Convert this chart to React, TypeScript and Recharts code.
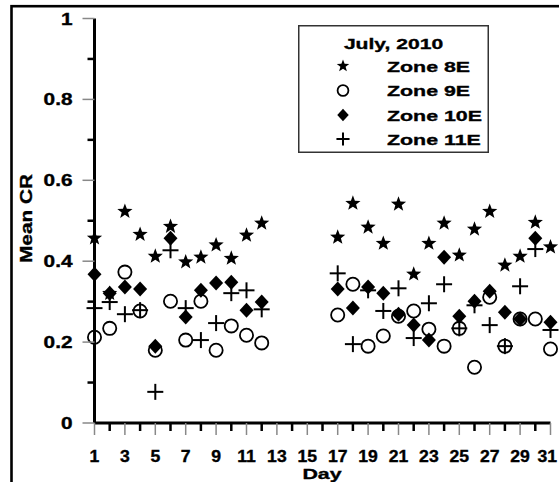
import React from 'react';
import { ScatterChart, Scatter, XAxis, YAxis, Legend } from 'recharts';

const days = [1, 2, 3, 4, 5, 6, 7, 8, 9, 10, 11, 12, 17, 18, 19, 20, 21, 22, 23, 24, 25, 26, 27, 28, 29, 30, 31];
const zone8E = [0.457, 0.32, 0.523, 0.466, 0.412, 0.486, 0.398, 0.41, 0.44, 0.407, 0.464, 0.494, 0.459, 0.543, 0.484, 0.444, 0.541, 0.368, 0.444, 0.494, 0.415, 0.479, 0.523, 0.39, 0.412, 0.496, 0.435];
const zone9E = [0.212, 0.234, 0.373, 0.277, 0.18, 0.301, 0.205, 0.301, 0.18, 0.24, 0.217, 0.198, 0.267, 0.343, 0.19, 0.215, 0.264, 0.277, 0.232, 0.19, 0.234, 0.138, 0.311, 0.19, 0.257, 0.257, 0.183];
const zone10E = [0.368, 0.321, 0.336, 0.331, 0.19, 0.457, 0.262, 0.328, 0.346, 0.348, 0.279, 0.299, 0.331, 0.284, 0.336, 0.321, 0.269, 0.242, 0.205, 0.41, 0.264, 0.301, 0.326, 0.274, 0.257, 0.457, 0.249];
const zone11E = [0.284, 0.299, 0.269, 0.279, 0.077, 0.427, 0.284, 0.205, 0.247, 0.321, 0.328, 0.281, 0.37, 0.195, 0.328, 0.277, 0.333, 0.21, 0.296, 0.343, 0.234, 0.291, 0.242, 0.19, 0.338, 0.43, 0.23];

const seriesNames = ['Zone 8E', 'Zone 9E', 'Zone 10E', 'Zone 11E'];
const legendTitle = 'July, 2010';
const xTicks = [1, 2, 3, 4, 5, 6, 7, 8, 9, 10, 11, 12, 13, 14, 15, 16, 17, 18, 19, 20, 21, 22, 23, 24, 25, 26, 27, 28, 29, 30, 31];
const xTickLabels = ['1', '', '3', '', '5', '', '7', '', '9', '', '11', '', '13', '', '15', '', '17', '', '19', '', '21', '', '23', '', '25', '', '27', '', '29', '', '31'];
const yTicks = [0, 0.1, 0.2, 0.3, 0.4, 0.5, 0.6, 0.7, 0.8, 0.9, 1];
const yTickLabels = ['0', '', '0.2', '', '0.4', '', '0.6', '', '0.8', '', '1'];

const FONT = '"Liberation Sans", Arial, Helvetica, sans-serif';

const toRows = (vals: number[]) => days.map((d, i) => ({ day: d, value: vals[i] }));

function SText(props: any) {
  const { x, y, children, anchor = 'middle', sx = 1.4, rot = 0, size = 15 } = props;
  return (
    <text
      transform={`translate(${x},${y}) rotate(${rot}) scale(${sx},1)`}
      textAnchor={anchor}
      fontFamily={FONT}
      fontWeight="bold"
      fontSize={size}
      fill="#000"
      stroke="#000"
      strokeWidth={0.35}
    >
      {children}
    </text>
  );
}

function StarMark({ cx, cy, s = 1 }: any) {
  const R = 8 * s;
  const r = R * 0.42;
  const pts: string[] = [];
  for (let i = 0; i < 10; i++) {
    const a = ((-90 + i * 36) * Math.PI) / 180;
    const rr = i % 2 ? r : R;
    pts.push(`${cx + rr * Math.cos(a)},${cy + rr * Math.sin(a)}`);
  }
  return <polygon points={pts.join(' ')} fill="#000" />;
}
function CircleMark({ cx, cy, s = 1 }: any) {
  return <circle cx={cx} cy={cy} r={6.6 * s} fill="none" stroke="#000" strokeWidth={1.8} />;
}
function DiamondMark({ cx, cy, s = 1 }: any) {
  const w = 7 * s;
  const h = 7.5 * s;
  return <polygon points={`${cx},${cy - h} ${cx + w},${cy} ${cx},${cy + h} ${cx - w},${cy}`} fill="#000" />;
}
function PlusMark({ cx, cy, s = 1 }: any) {
  const a = 8 * s;
  return (
    <g stroke="#000" strokeWidth={2}>
      <line x1={cx - a} y1={cy} x2={cx + a} y2={cy} />
      <line x1={cx} y1={cy - a} x2={cx} y2={cy + a} />
    </g>
  );
}
const marks = [StarMark, CircleMark, DiamondMark, PlusMark];

function YTick(props: any) {
  const { x, y, index } = props;
  const label = yTickLabels[index] ?? '';
  const major = label !== '';
  return (
    <g>
      {major ? (
        <line x1={x - 12} y1={y} x2={x} y2={y} stroke="#888" strokeWidth={1.5} />
      ) : (
        <line x1={x - 7} y1={y} x2={x} y2={y} stroke="#000" strokeWidth={2.5} />
      )}
      {major && (
        <SText x={x - 22} y={y + 6} anchor="end" sx={1.3} size={16}>
          {label}
        </SText>
      )}
    </g>
  );
}

function XTick(props: any) {
  const { x, y, index } = props;
  const label = xTickLabels[index] ?? '';
  const major = label !== '';
  const isLast = index === xTickLabels.length - 1;
  return (
    <g>
      {major ? (
        <line x1={x} y1={y} x2={x} y2={y + 12} stroke="#888" strokeWidth={1.5} />
      ) : (
        <line x1={x} y1={y} x2={x} y2={y + 8} stroke="#000" strokeWidth={2.5} />
      )}
      {major && (
        <SText x={isLast ? Math.min(x + 9, 557) : x} y={461.5} anchor={isLast ? 'end' : 'middle'} sx={1.1} size={16}>
          {label}
        </SText>
      )}
    </g>
  );
}

function LegendBox() {
  const rowY = [41, 65.5, 90, 114];
  return (
    <svg width={191} height={128} style={{ display: 'block' }}>
      <rect x={0.75} y={0.75} width={189.5} height={126.5} fill="#fff" stroke="#333" strokeWidth={1.5} />
      <SText x={95.5} y={24} anchor="middle" sx={1.36} size={15.5}>
        {legendTitle}
      </SText>
      {seriesNames.map((n, i) => {
        const M = marks[i];
        return (
          <g key={n}>
            <M cx={45} cy={rowY[i]} s={0.82} />
            <SText x={89} y={rowY[i] + 5.5} anchor="start" sx={1.38} size={15.5}>
              {n}
            </SText>
          </g>
        );
      })}
    </svg>
  );
}

const allSeries = [zone8E, zone9E, zone10E, zone11E];

export default function App() {
  return (
    <div style={{ position: 'absolute', left: 0, top: 0, width: 559, height: 482, background: '#fff' }}>
      <ScatterChart width={559} height={482} margin={{ top: 18.5, right: 8.5, bottom: 0, left: 0 }}>
        <XAxis
          type="number"
          dataKey="day"
          domain={[1, 31]}
          ticks={xTicks}
          interval={0}
          tickSize={0}
          tickMargin={0}
          tickLine={false}
          height={59}
          axisLine={{ stroke: '#000', strokeWidth: 3 }}
          tick={(p: any) => <XTick {...p} />}
          label={() => (
            <SText x={322} y={478.5} anchor="middle" sx={1.38} size={15.5}>
              Day
            </SText>
          )}
        />
        <YAxis
          type="number"
          dataKey="value"
          domain={[0, 1]}
          ticks={yTicks}
          interval={0}
          tickSize={0}
          tickMargin={0}
          tickLine={false}
          width={94.5}
          axisLine={{ stroke: '#000', strokeWidth: 3 }}
          tick={(p: any) => <YTick {...p} />}
          label={() => (
            <g>
              <rect x={11.5} y={6.2} width={700} height={700} fill="none" stroke="#000" strokeWidth={2.6} />
              <SText x={31.5} y={218.5} anchor="middle" sx={1.3} rot={-90} size={16}>
                Mean CR
              </SText>
            </g>
          )}
        />
        <Legend
          layout="horizontal"
          verticalAlign="middle"
          align="center"
          wrapperStyle={{ left: 298, top: 25, width: 191, height: 128 }}
          content={() => <LegendBox />}
        />
        {allSeries.map((vals, i) => {
          const M = marks[i];
          return (
            <Scatter
              key={seriesNames[i]}
              name={seriesNames[i]}
              data={toRows(vals)}
              isAnimationActive={false}
              shape={(p: any) => <M cx={p.cx} cy={p.cy} />}
            />
          );
        })}
      </ScatterChart>
    </div>
  );
}
